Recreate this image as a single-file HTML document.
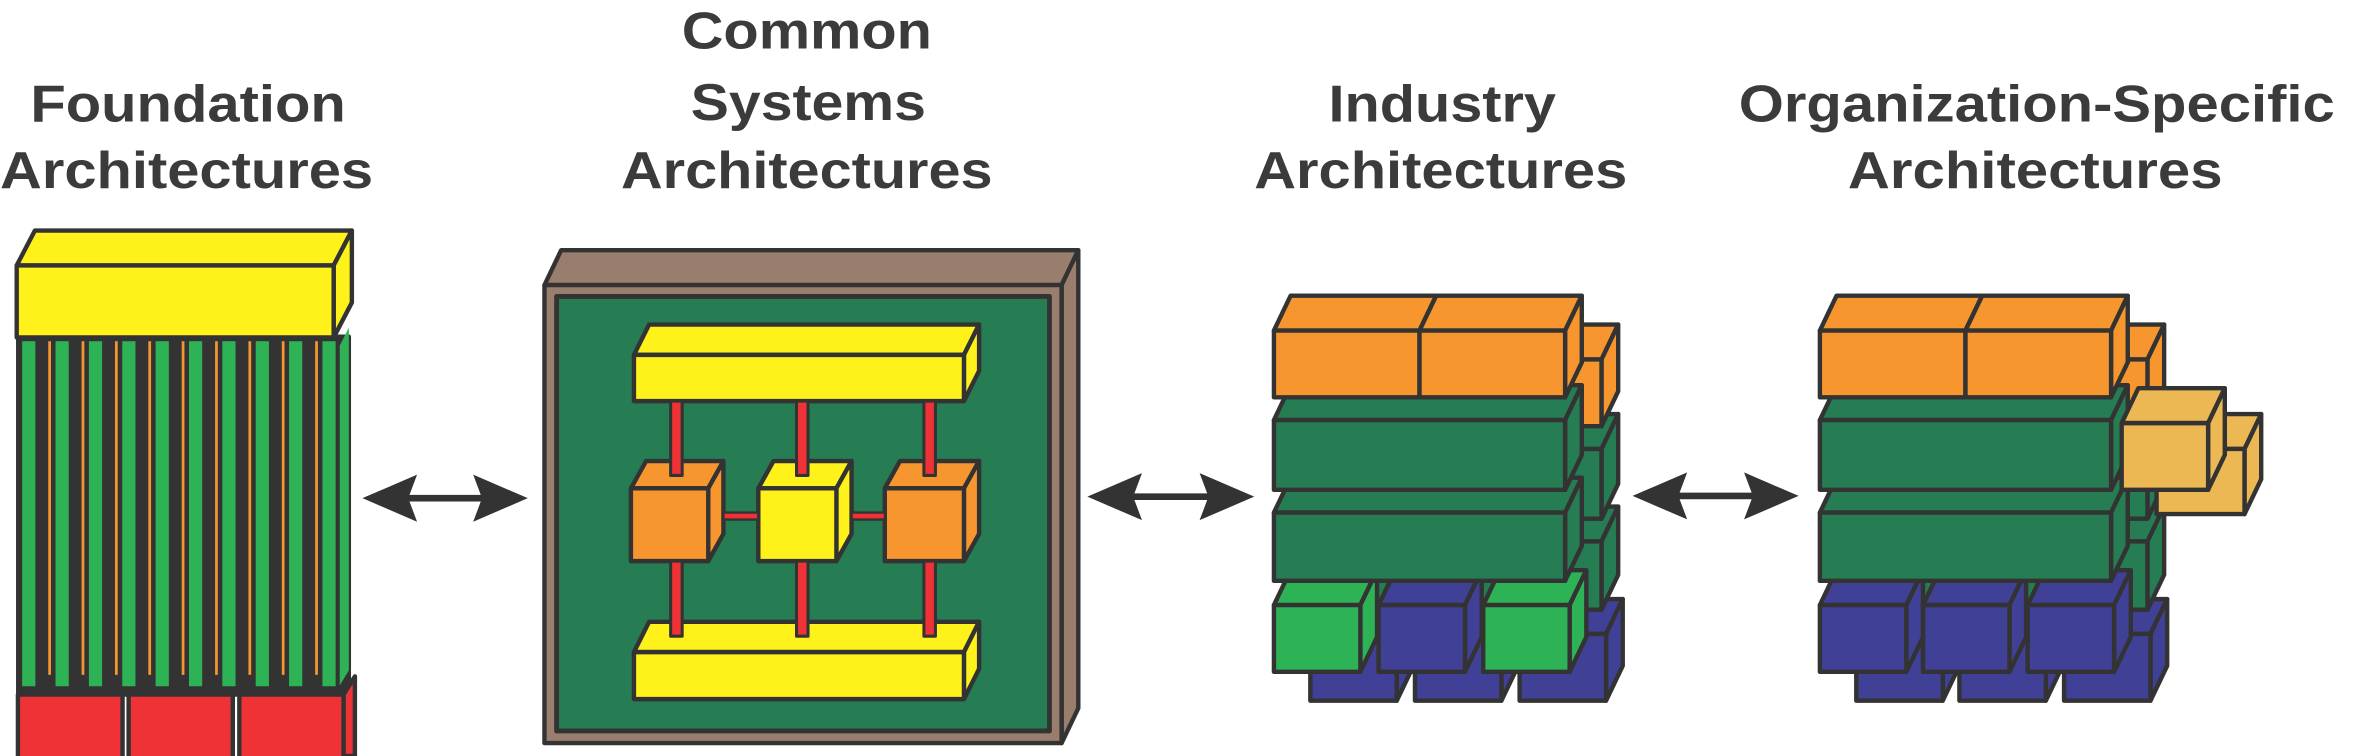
<!DOCTYPE html>
<html><head><meta charset="utf-8"><style>
html,body{margin:0;padding:0;background:#fff;}
svg{display:block;}
text{font-family:"Liberation Sans",Arial,sans-serif;font-weight:bold;fill:#3b3b3b;}
</style></head><body>
<svg id="s" width="2378" height="756" viewBox="0 0 1568 498.5" xmlns="http://www.w3.org/2000/svg">
<g id="g" stroke="#333" stroke-width="2.9" stroke-linejoin="round"></g>
<g font-size="34.5">
<text x="124" y="80" text-anchor="middle" textLength="208" lengthAdjust="spacingAndGlyphs">Foundation</text>
<text x="123" y="124" text-anchor="middle" textLength="246" lengthAdjust="spacingAndGlyphs">Architectures</text>
<text x="532" y="32" text-anchor="middle" textLength="165" lengthAdjust="spacingAndGlyphs">Common</text>
<text x="533" y="79" text-anchor="middle" textLength="155" lengthAdjust="spacingAndGlyphs">Systems</text>
<text x="532" y="124" text-anchor="middle" textLength="245" lengthAdjust="spacingAndGlyphs">Architectures</text>
<text x="951" y="80" text-anchor="middle" textLength="150" lengthAdjust="spacingAndGlyphs">Industry</text>
<text x="950" y="124" text-anchor="middle" textLength="246" lengthAdjust="spacingAndGlyphs">Architectures</text>
<text x="1343" y="80" text-anchor="middle" textLength="393" lengthAdjust="spacingAndGlyphs">Organization-Specific</text>
<text x="1342" y="124" text-anchor="middle" textLength="247" lengthAdjust="spacingAndGlyphs">Architectures</text>
</g>
</svg>
<script>
var o='';
function P(pts,f,extra){o+='<polygon points="'+pts.map(function(p){return p[0].toFixed(1)+','+p[1].toFixed(1)}).join(' ')+'" fill="'+f+'"'+(extra||'')+'/>';}
function R(x,y,w,h,f,extra){o+='<rect x="'+x+'" y="'+y+'" width="'+w+'" height="'+h+'" fill="'+f+'"'+(extra||'')+'/>';}
function box(x,y,w,h,f,dx,dy){dx=dx||11;dy=dy||-23;
 P([[x,y],[x+dx,y+dy],[x+w+dx,y+dy],[x+w,y]],f);
 P([[x+w,y],[x+w+dx,y+dy],[x+w+dx,y+h+dy],[x+w,y+h]],f);
 R(x,y,w,h,f);}
function arrow(x1,x2,y){var hl=36,hw=15.5,n=31,t=2.2;
 P([[x1,y],[x1+hl,y-hw],[x1+n,y-t],[x2-n,y-t],[x2-hl,y-hw],[x2,y],[x2-hl,y+hw],[x2-n,y+t],[x1+n,y+t],[x1+hl,y+hw]],'#333',' stroke="none"');}
var OR='#F7962F',DG='#267C53',BG='#2DB355',BL='#3F4096',YE='#FFF21A',RD='#EE3236',TN='#EBB853',BR='#9A7E6D';
/* Panel 1 */
R(12,222,218,236,'#333');
P([[224,228],[230,216],[230,442],[224,452]],BG,' stroke="none"');
for(var i=0;i<10;i++){R(14.6+i*22,225,8.7,227.5,BG,' stroke="none"');}
for(var i=0;i<9;i++){R(31.8+i*22,225,1.8,220,OR,' stroke="none"');}
P([[226.5,458],[234,446],[234,498.5],[226.5,498.5]],RD);
R(11.8,458,69,45,RD);R(84.8,458,68.7,45,RD);R(157.8,458,68.7,45,RD);
box(11,175,209,47.5,YE,12,-23);
arrow(239,348,328.5);
/* Panel 2 */
box(359,188,341,302,BR,11,-23);
R(367,195.5,325,286.5,DG,' stroke-width="3.2"');
box(418,234,217.6,30.5,YE,10,-20);
box(418,430,217.6,31,YE,10,-20);
box(416,322,51,48,OR,10,-18);
box(500,322,51.5,48,YE,10,-18);
box(583.4,322,52.2,48,OR,10,-18);
[446,529,613].forEach(function(cx){R(cx-3.8,264.5,7.6,49,RD,' stroke-width="2"');R(cx-3.8,370,7.6,49.5,RD,' stroke-width="2"');});
R(477,338,23,4.6,RD,' stroke-width="1.6"');R(561.5,338,22,4.6,RD,' stroke-width="1.6"');
arrow(717,827,327.5);
arrow(1076.5,1186,327);
/* Panels 3 & 4 */
function stack(X,bot,bx){
 var sx=24,sy=19;
 bx.forEach(function(b){box(X+b+sx,399+sy,57,44,BL);});
 box(X+sx,338+sy,192,45,DG);
 box(X+sx,277+sy,192,46,DG);
 box(X+sx,218+sy,96,44,OR);box(X+96+sx,218+sy,96,44,OR);
 bx.forEach(function(b,i){box(X+b,399,57,44,bot[i]);});
 box(X,338,192,45,DG);
 box(X,277,192,46,DG);
 box(X,218,96,44,OR);box(X+96,218,96,44,OR);
}
stack(840,[BG,BL,BG],[0,69,138]);
stack(1200,[BL,BL,BL],[0,68,137]);
box(1422,296,58,43,TN);
box(1399,279,57,44,TN);
document.getElementById('g').innerHTML=o;
</script>
</body></html>
